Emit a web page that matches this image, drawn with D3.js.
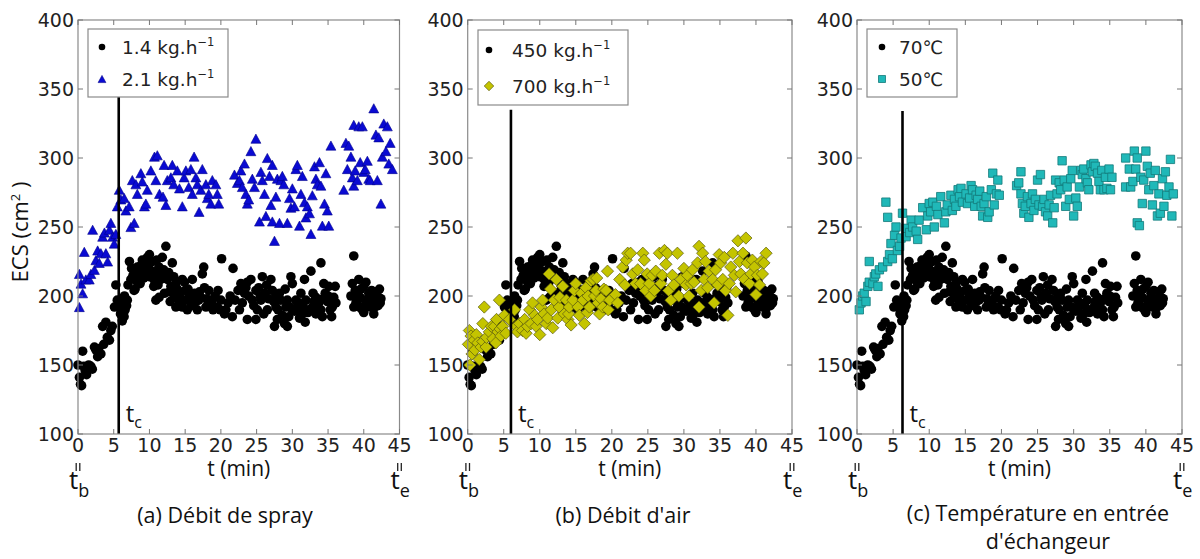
<!DOCTYPE html>
<html><head><meta charset="utf-8">
<script src="https://cdn.jsdelivr.net/npm/d3@7"></script>
<style>body{margin:0;background:#fff}svg{display:block}</style>
</head><body><svg id="c" width="1200" height="559"></svg>
<script>
// ---------------- DATA ----------------
const xTicks = [0,5,10,15,20,25,30,35,40,45];
const yTicks = [100,150,200,250,300,350,400];

// reference run (black circles, identical in the three panels): [t (min), ECS (cm2)]
const black = [
[0,150],[0.2,141],[0.35,136],[0.5,135],[0.65,160],[0.8,149],[1.0,146],[1.2,143],[1.5,150],[1.8,149],[2.0,147],[2.3,163],[2.5,161],[2.75,156],[2.9,162],[3.2,158],[3.45,178],[3.6,165],[3.9,181],[4.1,170],[4.4,168],[4.6,175],[4.8,178],[5.1,192],[5.3,208],[5.5,197],[5.8,195],[5.95,187],[6.2,182],[6.45,185],[6.5,200],[6.6,190],[6.9,197],[7.0,208],[7.2,225],[7.4,212],[7.7,215],[7.85,204],[8.0,205],[8.3,221],[8.5,216],[8.7,209],[8.8,222],[9.0,226],[9.2,213],[9.5,221],[9.7,228],[9.9,222],[9.95,214],[10.2,218],[10.4,225],[10.6,207],[10.8,210],[10.9,218],[10.9,197],[11.0,226],[11.35,221],[11.35,199],[11.5,216],[11.6,212],[11.8,228],[12.0,219],[12.1,214],[12.1,202],[12.3,236],[12.5,212],[12.7,217],[12.8,203],[13.0,207],[13.2,224],[13.4,214],[13.7,209],[13.7,202],[13.7,192],[13.9,205],[14.2,202],[14.2,195],[14.4,198],[14.6,212],[14.6,192],[15.0,204],[15.1,197],[15.3,190],[15.6,200],[15.8,195],[16.0,212],[16.3,202],[16.5,196],[16.7,190],[17.0,203],[17.2,199],[17.4,216],[17.6,221],[17.9,192],[18.0,198],[18.3,204],[18.6,194],[18.8,197],[19.2,200],[19.5,192],[19.9,190],[20.0,197],[20.1,227],[20.5,187],[20.7,190],[21.0,195],[21.6,185],[21.7,220],[22.0,197],[22.4,204],[22.8,209],[23.0,195],[23.3,202],[23.7,210],[23.7,183],[23.9,200],[24.2,212],[24.4,197],[24.9,204],[24.9,183],[25.1,190],[25.3,206],[25.6,197],[25.8,214],[26.0,187],[26.2,202],[26.5,190],[26.7,198],[27.0,212],[27.2,204],[27.4,196],[27.5,178],[27.7,192],[27.9,183],[28.0,190],[28.2,202],[28.4,197],[28.9,180],[29.1,192],[29.3,178],[29.3,197],[29.5,185],[29.8,214],[30.0,209],[30.0,190],[30.3,189],[30.5,197],[30.7,192],[31.0,184],[31.2,202],[31.4,187],[31.5,193],[31.7,212],[31.9,197],[32.2,188],[32.4,190],[32.6,218],[32.8,192],[33.0,196],[33.3,199],[33.3,187],[33.7,195],[34.0,224],[34.0,190],[34.2,185],[34.4,209],[34.6,202],[34.9,196],[35.1,207],[35.3,190],[35.6,192],[35.8,199],[36.0,207],[38.4,209],[38.6,229],[38.6,192],[38.8,204],[38.9,195],[39.0,200],[39.1,197],[39.3,212],[39.5,199],[39.6,205],[39.8,190],[40.0,207],[40.0,188],[40.2,197],[40.4,194],[40.7,202],[40.9,192],[41.0,198],[41.1,204],[41.4,187],[41.6,197],[41.8,203],[42.0,193],[42.1,199],[42.3,195],[42.4,198],
[6.0,190],[6.8,193],[7.5,220],[8.2,211],[9.3,219],[10.0,230],[10.5,213],[11.2,208],[12.9,196],[13.5,199],[14.9,210],[15.4,205],[16.1,193],[16.9,197],[17.7,206],[18.9,190],[19.6,204],[21.3,200],[22.6,190],[23.5,206],[24.6,193],[25.5,200],[26.4,208],[27.8,200],[28.6,186],[29.0,205],[29.7,192],[30.9,195],[31.8,181],[32.9,202],[33.5,193],[34.3,198],[35.0,200],[35.5,185],[36.1,195],[38.2,200],[39.4,192],[40.3,210],[40.8,196],[41.5,192],[42.2,205]
];

// (a) spray 2.1 kg/h (blue triangles)
const blue = [
[0.19,216],[0.19,192],[0.42,209],[0.65,202],[0.88,232],[1.1,212],[1.58,212],[1.8,216],[2.05,248],[2.3,219],[2.5,226],[2.75,233],[2.98,224],[3.2,231],[3.45,243],[3.7,246],[3.9,231],[4.15,225],[4.4,248],[4.6,253],[4.84,243],[5.07,238],[5.3,245],[5.5,265],[5.77,277],[6.0,270],[6.47,271],[6.7,262],[7.17,265],[7.4,250],[7.87,253],[7.6,284],[8.1,281],[8.3,274],[8.8,289],[9.0,283],[9.3,265],[9.5,267],[9.7,277],[10.2,291],[10.7,301],[11.1,302],[10.9,284],[11.4,274],[11.9,272],[12.05,295],[12.3,266],[12.5,284],[13.0,286],[13.2,295],[13.4,281],[13.9,291],[14.2,278],[14.6,265],[14.85,286],[15.1,291],[15.5,279],[15.8,292],[16.0,274],[16.25,301],[16.5,286],[16.7,281],[16.95,261],[17.2,277],[17.4,292],[17.9,281],[18.1,271],[18.3,274],[18.6,267],[18.8,284],[19.3,281],[19.5,274],[19.7,267],
[21.9,288],[22.3,282],[22.6,284],[22.8,291],[23.0,279],[23.3,296],[23.5,274],[23.7,267],[23.9,270],[24.2,305],[24.4,285],[24.7,279],[24.9,314],[25.4,254],[25.6,290],[25.8,284],[26.1,274],[26.3,258],[26.5,300],[26.8,287],[27.0,266],[27.2,295],[27.2,254],[27.5,240],[27.7,272],[27.9,285],[28.2,253],[28.4,284],[28.6,287],[28.8,281],[29.3,253],[29.6,271],[29.8,264],[30.0,278],[30.3,265],[30.5,292],[30.7,295],[31.0,251],[31.2,274],[31.4,287],[31.7,268],[31.9,257],[32.1,265],[32.4,260],[32.6,245],[32.8,273],[33.1,294],[33.3,285],[33.5,281],[33.8,297],[34.0,280],[34.2,251],[34.5,267],[34.7,289],[34.9,262],[35.1,251],[35.4,309],
[37.2,277],[37.5,311],[37.7,292],[37.9,309],[38.2,301],[38.4,286],[38.6,324],[38.6,280],[38.8,291],[39.1,284],[39.3,323],[39.5,297],[39.8,323],[40.0,290],[40.2,292],[40.5,298],[40.7,285],[40.9,284],[41.4,336],[41.7,317],[41.9,284],[42.1,315],[42.4,267],[42.6,301],[42.8,325],[43.1,305],[43.3,323],[43.5,296],[43.7,311],[44.0,292]
];

// (b) air 700 kg/h (yellow diamonds)
const yellow = [
[0.1,165],[0.23,175],[0.3,150],[0.46,171],[0.6,158],[0.9,168],[1.0,161],[1.2,172],[1.4,166],[1.6,154],[1.85,163],[2.1,167],[2.1,180],[2.3,192],[2.55,163],[2.6,170],[3.0,174],[3.3,178],[3.5,169],[3.7,178],[3.9,166],[4.0,183],[4.2,174],[4.4,197],[4.5,176],[4.6,171],[4.86,178],[5.1,186],[5.3,173],[5.8,183],[6.5,190],[6.7,178],[6.9,174],[7.2,180],[7.6,175],[7.9,183],[8.1,173],[8.3,178],[8.6,190],[8.8,180],[9.0,195],[9.3,186],[9.5,178],[9.7,183],[10.0,172],[10.2,192],[10.4,197],[10.6,187],[10.9,180],[11.1,184],[11.3,216],[11.5,205],[11.6,190],[11.8,177],[12.0,197],[12.3,212],[12.5,184],[12.7,192],[12.8,199],[13.2,207],[13.4,187],[13.7,197],[13.9,183],[14.0,187],[14.1,192],[14.35,179],[14.6,197],[14.8,204],[15.0,209],[15.3,192],[15.5,186],[15.8,202],[16.0,197],[16.2,180],[16.4,206],[16.6,188],[16.7,200],[16.9,192],[17.1,211],[17.4,212],[17.6,200],[17.8,204],[17.9,213],[18.1,195],[18.3,187],[18.5,198],[18.75,192],[18.9,205],[19.2,204],[19.4,218],[19.5,190],[19.7,197],[20.5,201],[20.8,195],[21.1,212],[21.5,221],[21.8,208],[22.0,226],[22.2,231],
[22.6,231],[22.9,216],[23.3,209],[23.6,219],[24.0,209],[24.3,231],[24.5,226],[24.7,204],[24.9,216],[25.2,209],[25.4,200],[25.6,215],[25.9,204],[26.1,218],[26.6,231],[26.8,209],[27.0,215],[27.3,233],[27.5,223],[27.7,231],[27.9,204],[28.2,197],[28.4,215],[28.6,208],[29.1,231],[29.3,200],[29.6,212],[30.0,220],[30.3,208],[30.5,215],[30.7,200],[31.0,209],[31.2,219],[31.4,210],[31.9,224],[32.1,236],[32.1,192],[32.4,204],[32.6,231],[32.8,212],[33.0,225],[33.3,206],[33.5,218],[34.0,212],[34.2,195],[34.4,219],[34.7,208],[34.9,230],[35.1,224],[35.4,212],[35.6,228],[35.8,204],[36.1,186],[36.3,209],[36.5,221],[36.8,231],[37.0,215],[37.2,203],[37.5,240],[37.7,225],[37.9,216],[38.2,231],[38.4,212],[38.6,242],[38.8,224],[39.1,209],[39.3,216],[39.5,226],[39.8,221],[40.0,201],[40.2,215],[40.5,208],[40.7,225],[40.9,216],[41.1,224],[41.4,231]
];

// (c) 50 degC (cyan squares)
const cyan = [
[0.32,190],[0.55,195],[0.78,200],[1.0,202],[1.25,196],[1.5,207],[1.7,210],[1.7,225],[2.2,209],[2.4,214],[2.6,216],[2.9,207],[3.1,219],[3.56,221],[4.0,268],[4.25,257],[4.25,225],[4.5,230],[4.7,238],[4.9,227],[5.2,244],[5.4,250],[5.6,233],[5.9,236],[6.1,242],[6.3,260],[6.8,249],[6.8,243],[7.3,246],[7.5,255],[7.7,250],[8.2,247],[8.4,241],[8.6,255],[9.1,264],[9.6,248],[9.8,258],[10.0,267],[10.2,261],[10.5,268],[10.7,250],[11.0,265],[11.2,259],[11.6,272],[12.1,253],[12.3,261],[12.5,266],[13.0,273],[13.2,262],[13.5,270],[13.7,265],[14.0,277],[14.2,272],[14.4,278],[14.6,268],[15.1,274],[15.3,267],[15.6,271],[15.8,280],[16.0,277],[16.3,265],[16.5,273],[16.7,270],[17.0,276],[17.2,265],[17.4,258],[17.6,267],[17.9,272],[18.1,257],[18.3,261],[18.6,277],[18.8,289],[19.0,266],[19.3,274],[19.5,284],[19.7,273],
[22.1,280],[22.4,282],[22.7,290],[22.7,274],[22.9,267],[23.1,260],[23.3,265],[23.6,272],[23.8,257],[24.1,267],[24.3,274],[24.5,262],[24.7,270],[25.0,284],[25.2,266],[25.4,288],[25.7,265],[25.9,270],[26.1,261],[26.4,258],[26.6,266],[26.8,273],[27.1,253],[27.3,264],[27.5,284],[27.7,274],[28.0,282],[28.2,277],[28.4,298],[28.7,284],[28.9,265],[29.1,279],[29.4,270],[29.6,285],[29.8,291],[30.0,258],[30.3,271],[30.5,265],[30.8,279],[31.0,291],[31.2,288],[31.4,292],[31.7,285],[31.9,282],[32.1,277],[32.4,295],[32.6,290],[32.8,296],[33.0,294],[33.3,289],[33.5,283],[33.7,277],[33.9,291],[34.2,277],[34.4,286],[34.6,278],[34.9,292],[35.1,277],[35.3,286],
[37.2,300],[37.2,279],[37.7,292],[37.9,279],[38.2,283],[38.4,305],[38.6,292],[38.8,300],[38.8,253],[39.1,251],[39.3,286],[39.5,267],[39.7,284],[40.0,305],[40.2,294],[40.4,277],[40.6,289],[40.9,266],[41.1,280],[41.3,291],[41.6,258],[41.8,274],[42.0,260],[42.3,285],[42.5,265],[42.7,290],[42.9,273],[43.2,279],[43.4,299],[43.6,258],[43.8,274]
];

// series per panel and labels
const panelSeries = [[black, blue], [black, yellow], [black, cyan]];
const legendLabels = [["1.4 kg.h","2.1 kg.h"],["450 kg.h","700 kg.h"],["70\u2103","50\u2103"]];
const legendSups = [["\u22121","\u22121"],["\u22121","\u22121"],["",""]];
const captions = [["(a) D\u00e9bit de spray"],["(b) D\u00e9bit d'air"],["(c) Temp\u00e9rature en entr\u00e9e","d'\u00e9changeur"]];
const tcTimes = [5.7, 6.0, 6.3];      // critical time t_c (min)
const tcTops = [345, 335, 334];       // top of t_c line (cm2)
const xLabel = "t (min)";

// ---------------- LAYOUT ----------------
const svg = d3.select("#c");
const TICKF = "'DejaVu Sans', sans-serif";
const TXTF = "'Open Sans', sans-serif";
const layout = [
  {x0:78,   x1:399.5, leg:{x:88,  y:29, w:140, h:68, rows:[47,79], mx:102, tx:122}, cap:[[225,523]]},
  {x0:467.7,x1:792,   leg:{x:478, y:30, w:150, h:75, rows:[50,86], mx:489, tx:512}, cap:[[623,523]]},
  {x0:857,  x1:1182,  leg:{x:867, y:29, w:90,  h:68, rows:[47,79], mx:882, tx:899}, cap:[[1038,521],[1048,549]]}
];
const styles = [
  {shape:"circle",   fill:"#000", stroke:"none", sw:0},
  {shape:"triangle", fill:"#0a0ad2", stroke:"#00008b", sw:0.6},
  {shape:"diamond",  fill:"#c4c400", stroke:"#5a5a10", sw:0.7},
  {shape:"square",   fill:"#20b8b8", stroke:"#137a7a", sw:0.8}
];
const seriesStyle = [[0,1],[0,2],[0,3]];

function markerPath(shape, s){
  if(shape==="circle") return d3.symbol(d3.symbolCircle, Math.PI*s*s)();
  if(shape==="triangle") return `M0,${-s}L${s*1.08},${s}L${-s*1.08},${s}Z`;
  if(shape==="diamond") return `M0,${-s*1.25}L${s*1.25},0L0,${s*1.25}L${-s*1.25},0Z`;
  return `M${-s},${-s}H${s}V${s}H${-s}Z`;
}
const plotSize = {circle:4.8, triangle:4.6, diamond:4.9, square:4.2};
const legSize  = {circle:3.3, triangle:3.6, diamond:3.8, square:3.5};

const yScale = d3.scaleLinear().domain([100,400]).range([434,20]);

layout.forEach((L, i) => {
  const x = d3.scaleLinear().domain([0,45]).range([L.x0, L.x1]);
  const g = svg.append("g");

  panelSeries[i].forEach((ser, k) => {
    const st = styles[seriesStyle[i][k]];
    g.append("g").selectAll("path").data(ser).join("path")
      .attr("d", markerPath(st.shape, plotSize[st.shape]))
      .attr("transform", d => `translate(${x(d[0])},${yScale(d[1])})`)
      .attr("fill", st.fill).attr("stroke", st.stroke).attr("stroke-width", st.sw);
  });

  g.append("line").attr("x1", x(tcTimes[i])).attr("x2", x(tcTimes[i]))
    .attr("y1", yScale(100)).attr("y2", yScale(tcTops[i]))
    .attr("stroke", "#000").attr("stroke-width", 2.6);
  const tc = g.append("text").attr("x", x(tcTimes[i]) + 7).attr("y", 422)
    .attr("font-family", TXTF).attr("font-size", 24).attr("fill", "#111").text("t");
  tc.append("tspan").attr("dy", 6).attr("font-size", 16).text("c");

  g.append("rect").attr("x", L.x0).attr("y", 20).attr("width", L.x1 - L.x0).attr("height", 414)
    .attr("fill", "none").attr("stroke", "#8a8a8a").attr("stroke-width", 1.2);
  const tk = g.append("g").attr("stroke", "#777").attr("stroke-width", 1);
  xTicks.forEach(v => {
    tk.append("line").attr("x1", x(v)).attr("x2", x(v)).attr("y1", 434).attr("y2", 429);
    tk.append("line").attr("x1", x(v)).attr("x2", x(v)).attr("y1", 20).attr("y2", 25);
  });
  yTicks.forEach(v => {
    tk.append("line").attr("x1", L.x0).attr("x2", L.x0 + 5).attr("y1", yScale(v)).attr("y2", yScale(v));
    tk.append("line").attr("x1", L.x1).attr("x2", L.x1 - 5).attr("y1", yScale(v)).attr("y2", yScale(v));
  });

  g.append("g").selectAll("text").data(xTicks).join("text")
    .attr("x", d => x(d)).attr("y", 452).attr("text-anchor", "middle")
    .attr("font-family", TICKF).attr("font-size", 19).attr("fill", "#222").text(d => d);
  g.append("g").selectAll("text").data(yTicks).join("text")
    .attr("x", L.x0 - 4).attr("y", d => yScale(d) + 7).attr("text-anchor", "end")
    .attr("font-family", TICKF).attr("font-size", 19).attr("fill", "#222").text(d => d);

  g.append("text").attr("x", (L.x0 + L.x1) / 2).attr("y", 476).attr("text-anchor", "middle")
    .attr("font-family", TXTF).attr("font-size", 21).attr("fill", "#111").text(xLabel);

  [[L.x0, "b"], [L.x1, "e"]].forEach(([px, sub]) => {
    g.append("line").attr("x1", px - 1.8).attr("x2", px - 1.8).attr("y1", 463).attr("y2", 471)
      .attr("stroke", "#222").attr("stroke-width", 1.3);
    g.append("line").attr("x1", px + 1.8).attr("x2", px + 1.8).attr("y1", 463).attr("y2", 471)
      .attr("stroke", "#222").attr("stroke-width", 1.3);
    const t = g.append("text").attr("x", px - 9).attr("y", 489)
      .attr("font-family", TXTF).attr("font-size", 26).attr("fill", "#111").text("t");
    t.append("tspan").attr("dy", 8).attr("font-size", 18).text(sub);
  });

  captions[i].forEach((c, j) => {
    g.append("text").attr("x", L.cap[j][0]).attr("y", L.cap[j][1]).attr("text-anchor", "middle")
      .attr("font-family", TXTF).attr("font-size", 21.5).attr("fill", "#111").text(c);
  });

  const lg = g.append("g");
  lg.append("rect").attr("x", L.leg.x).attr("y", L.leg.y).attr("width", L.leg.w).attr("height", L.leg.h)
    .attr("fill", "#fff").attr("stroke", "#8a8a8a").attr("stroke-width", 1.2);
  legendLabels[i].forEach((lab, k) => {
    const st = styles[seriesStyle[i][k]];
    const yy = L.leg.rows[k];
    lg.append("path").attr("d", markerPath(st.shape, legSize[st.shape]))
      .attr("transform", `translate(${L.leg.mx},${yy})`)
      .attr("fill", st.fill).attr("stroke", st.stroke).attr("stroke-width", st.sw);
    const tx = lg.append("text").attr("x", L.leg.tx).attr("y", yy + 7)
      .attr("font-family", TICKF).attr("font-size", 18.5).attr("fill", "#222").text(lab);
    if (legendSups[i][k]) tx.append("tspan").attr("dy", -8).attr("font-size", 11.5).text(legendSups[i][k]);
  });
});

const yl = svg.append("text").attr("transform", "translate(28,232) rotate(-90)")
  .attr("text-anchor", "middle").attr("font-family", TXTF).attr("font-size", 22).attr("fill", "#111")
  .text("ECS (cm");
yl.append("tspan").attr("dy", -8).attr("font-size", 13).text("2");
yl.append("tspan").attr("dy", 8).text(" )");
</script>
</body></html>
